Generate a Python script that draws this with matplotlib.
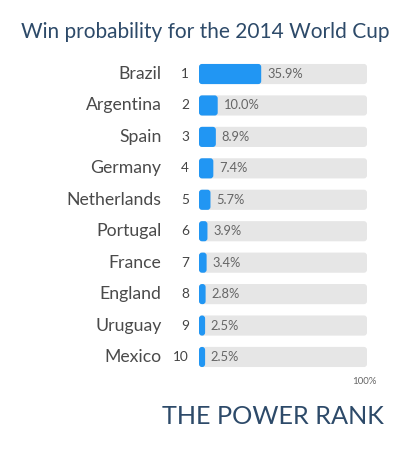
import matplotlib
matplotlib.use("Agg")
import matplotlib.pyplot as plt
from matplotlib.patches import FancyBboxPatch

countries = ["Brazil", "Argentina", "Spain", "Germany", "Netherlands",
             "Portugal", "France", "England", "Uruguay", "Mexico"]
ranks = [1, 2, 3, 4, 5, 6, 7, 8, 9, 10]
probs = [35.9, 10.0, 8.9, 7.4, 5.7, 3.9, 3.4, 2.8, 2.5, 2.5]
track_max = 100

W, H = 405, 450
fig = plt.figure(figsize=(W / 100, H / 100), dpi=100)
fig.patch.set_facecolor("white")

top_px, bot_px = 58.3, 372.7
ax = fig.add_axes([199 / W, 1 - bot_px / H, (367 - 199) / W, (bot_px - top_px) / H])
ax.set_xlim(0, track_max)
ax.set_ylim(len(countries) - 0.5, -0.5)
ax.axis("off")

ypos = list(range(len(countries)))
bh = 0.64
track = ax.barh(ypos, [track_max] * len(countries), height=bh, color="#e6e6e6")
bars = ax.barh(ypos, probs, height=bh, color="#2196f3")

# rounded corners
px_x = (367 - 199) / track_max
px_y = (bot_px - top_px) / len(countries)
r_px = 3.0
extra = 1.9 / px_x
for group in (track, bars):
    for p in group:
        x, y, w, h = p.get_x(), p.get_y(), p.get_width(), p.get_height()
        w_draw = w + extra if group is bars else w
        fb = FancyBboxPatch((x, y), w_draw, h,
                            boxstyle=f"round,pad=0,rounding_size={r_px / px_x}",
                            mutation_aspect=px_x / px_y,
                            facecolor=p.get_facecolor(), edgecolor="none")
        p.set_visible(False)
        ax.add_patch(fb)

for i, (c, r, v) in enumerate(zip(countries, ranks, probs)):
    ax.text(v + extra + 5.8 / px_x, i, f"{v:.1f}%", va="center", ha="left",
            fontsize=9.3, color="#666666", family="Lato")
    ax.annotate(str(r), xy=(0, i), xycoords="data", xytext=(-7.2, 0),
                textcoords="offset points", ha="right", va="center",
                fontsize=9.8, color="#444444", family="Lato")
    ax.annotate(c, xy=(0, i), xycoords="data", xytext=(-27, 0),
                textcoords="offset points", ha="right", va="center",
                fontsize=12.7, color="#4a4a4a", family="Lato")

fig.text(377 / W, 1 - 382 / H, "100%", ha="right", va="center",
         fontsize=7, color="#666666", family="Lato")

fig.text(205 / W, 1 - 32 / H, "Win probability for the 2014 World Cup",
         ha="center", va="center", fontsize=15, color="#2d4a69", family="Lato")
fig.text(384 / W, 1 - 416 / H, "THE POWER RANK", ha="right", va="center",
         fontsize=18.2, color="#2d4a69", family="Lato")

fig.savefig("out.png", dpi=100, facecolor="white")
